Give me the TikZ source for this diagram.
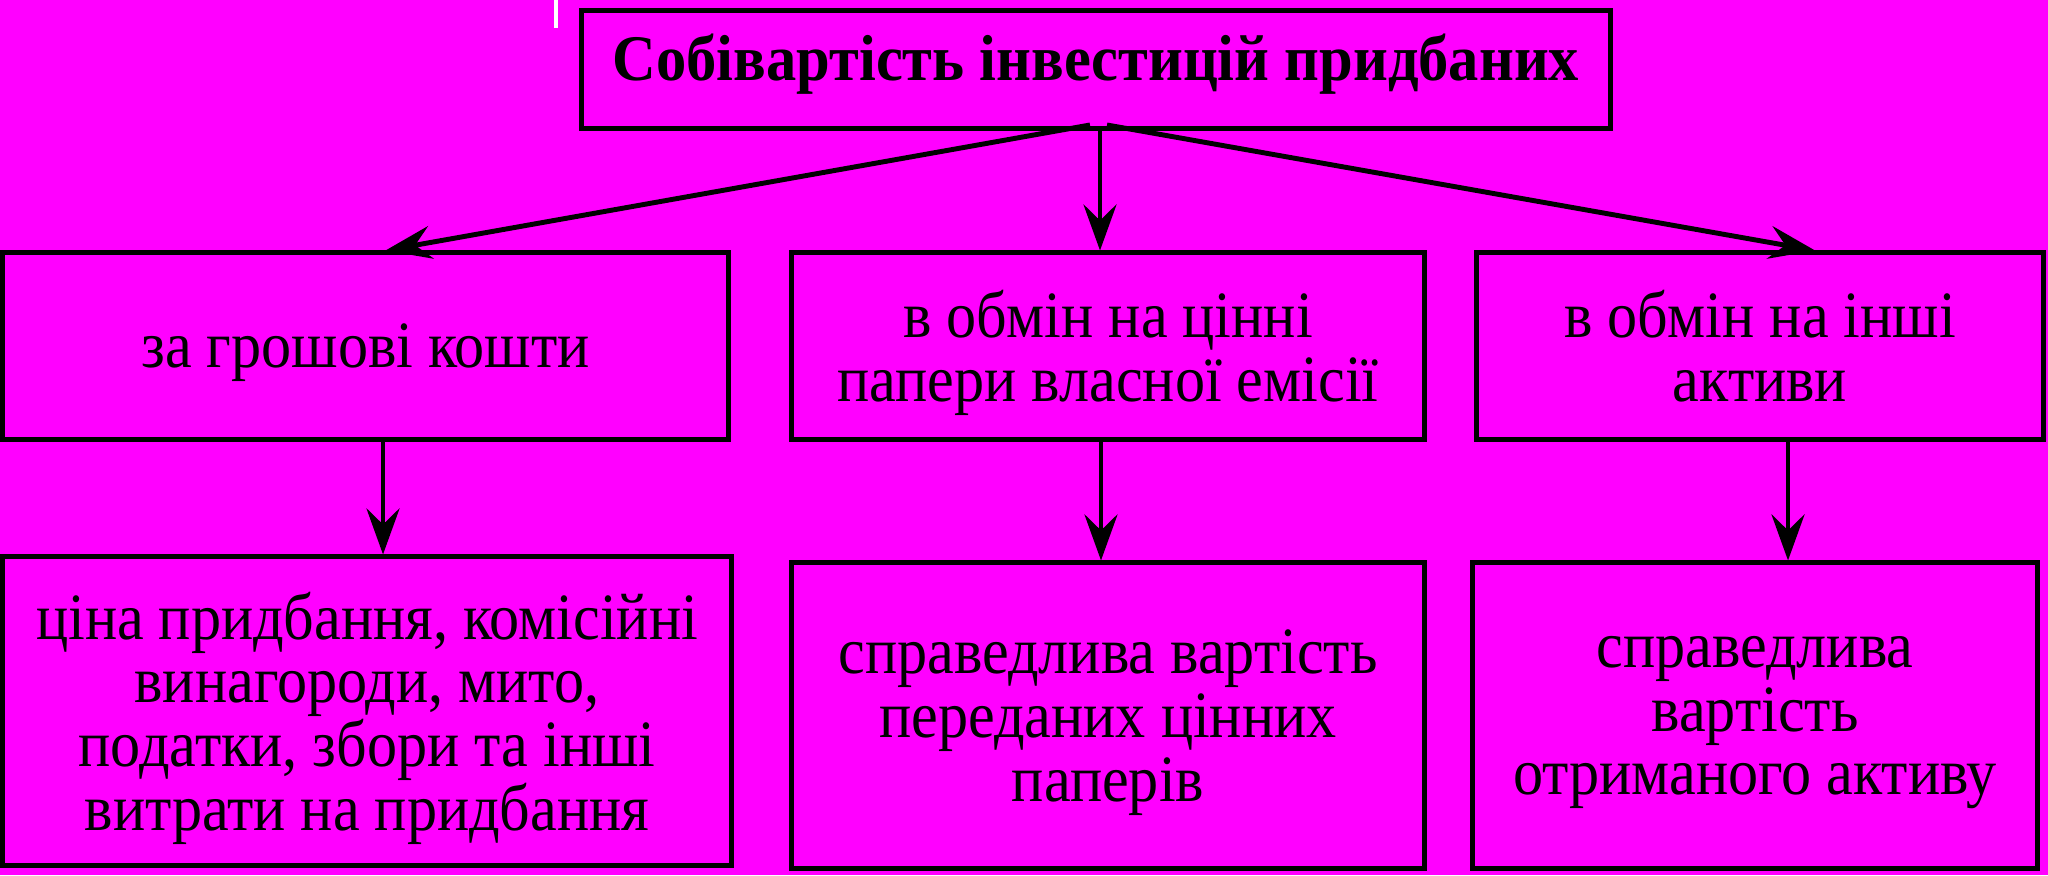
\documentclass[tikz,border=0pt]{standalone}
\usepackage{fontspec}
\setmainfont{Liberation Serif}
\newfontfamily\tallserif{Liberation Serif}[FakeStretch=0.91]
\newfontfamily\tallbold{Liberation Serif Bold}[FakeStretch=0.93]
\usetikzlibrary{arrows.meta}
\definecolor{bgmagenta}{RGB}{255,0,255}

\begin{document}
\begin{tikzpicture}[x=0.01cm, y=-0.01cm,
                    box/.style = {shape=rectangle, draw, line width=1.4pt, fill=bgmagenta, text depth=0pt,
                                  align=center, inner sep=0pt, font=\tallserif\fontsize{18.8}{18.1}\selectfont},
                    lowered/.style = {text depth=-0.16cm},
                    arr/.style = {line width=1.4pt, -{Stealth[length=4.6mm, width=3.3mm, inset=1.6mm]}}]

  \fill[bgmagenta] (0,0) rectangle (2048,875);
  \useasboundingbox (0,0) rectangle (2048,875);
  \draw[white, line width=1.1pt] (556,0) -- (556,28);

  \node[box, minimum width=10.29cm, minimum height=1.18cm, text height=0.48cm, text depth=0.26cm,
        font=\tallbold\fontsize{18.5}{20}\selectfont] (cost) at (1096,69.5) {Собівартість інвестицій придбаних};

  \node[box, minimum width=7.26cm, minimum height=1.86cm] (groshi) at (365.5,346) {за грошові кошти};
  \node[box, minimum width=6.32cm, minimum height=1.86cm] (papery) at (1108,346) {в обмін на цінні\\папери власної емісії};
  \node[box, minimum width=5.66cm, minimum height=1.86cm] (aktyvy) at (1760,346) {в обмін на інші\\активи};

  \node[box, lowered, minimum width=7.29cm, minimum height=3.08cm] (vytraty) at (367,711) {ціна придбання, комісійні\\винагороди, мито,\\податки, збори та інші\\витрати на придбання};
  \node[box, lowered, minimum width=6.32cm, minimum height=3.05cm] (vartpap) at (1108,715.5) {справедлива вартість\\переданих цінних\\паперів};
  \node[box, lowered, minimum width=5.64cm, minimum height=3.05cm] (vartakt) at (1755,715.5) {справедлива\\вартість\\отриманого активу};

  \draw[arr] ([xshift=-0.06cm, yshift=0.06cm]cost.south) -- ([xshift=0.2cm]groshi.north);
  \draw[arr] ([xshift=0.04cm]cost.south) -- ([xshift=0.04cm]cost.south |- papery.north);
  \draw[arr] ([xshift=0.11cm, yshift=0.06cm]cost.south) -- ([xshift=0.55cm]aktyvy.north);

  \foreach \a/\b/\s in {groshi/vytraty/0.175, papery/vartpap/-0.07, aktyvy/vartakt/0.28}
    \draw[arr] ([xshift=\s cm]\a.south) -- ([xshift=\s cm]\a.south |- \b.north);
\end{tikzpicture}
\end{document}
